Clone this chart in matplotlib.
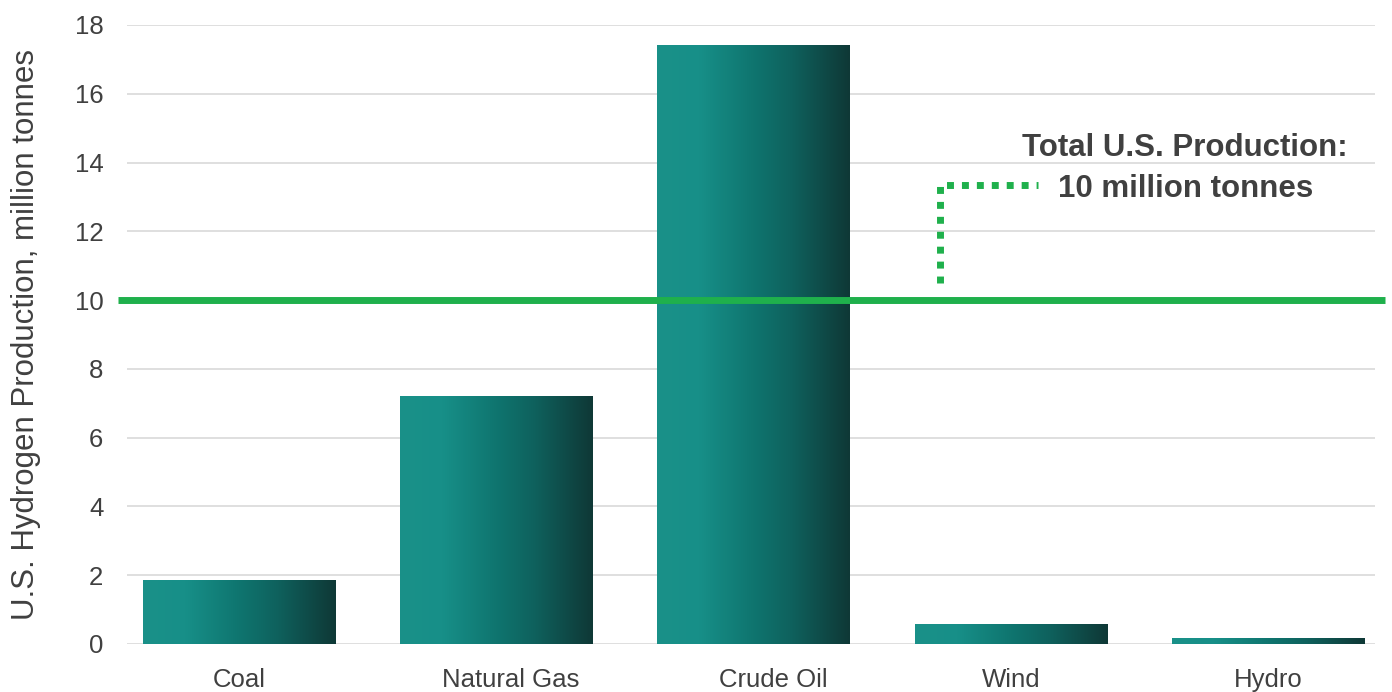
import matplotlib

matplotlib.use("Agg")
import matplotlib.pyplot as plt
import numpy as np
from matplotlib.colors import LinearSegmentedColormap
from matplotlib.transforms import ScaledTranslation

plt.rcParams["font.family"] = ["Liberation Sans", "DejaVu Sans"]

# U.S. hydrogen production by source, million tonnes
sources = ["Coal", "Natural Gas", "Crude Oil", "Wind", "Hydro"]
production = [1.86, 7.21, 17.41, 0.58, 0.17]
total_production = 10
y_ticks = [0, 2, 4, 6, 8, 10, 12, 14, 16, 18]

TEXT = "#404040"
GRID = "#d9d9d9"
GREEN = "#1fb04c"

bar_cmap = LinearSegmentedColormap.from_list(
    "teal_fade",
    [(0.0, "#1a9189"), (0.22, "#178f88"), (0.5, "#0f756f"),
     (0.7, "#0e615d"), (1.0, "#0f3836")])

fig = plt.figure(figsize=(13.92, 6.92), dpi=100)
ax = fig.add_axes([0.0912, 0.0694, 0.8966, 0.8945])

x = np.arange(len(sources))
bars = ax.bar(x, production, width=0.75, color="none", zorder=2)

# horizontal gradient fill, clipped to each bar
grad = np.linspace(0, 1, 256).reshape(1, -1)
for rect in bars:
    x0, w, h = rect.get_x(), rect.get_width(), rect.get_height()
    im = ax.imshow(grad, cmap=bar_cmap, aspect="auto",
                   extent=(x0, x0 + w, 0, h), zorder=2, interpolation="bilinear")
    im.set_clip_path(rect)

ax.set_xlim(-0.437, 4.414)
ax.set_ylim(0, 18)
ax.set_yticks(y_ticks)
ax.set_xticks(x)
ax.set_xticklabels(sources)
ax.yaxis.grid(True, color=GRID, lw=1.2, zorder=0)
ax.set_axisbelow(True)
for s in ax.spines.values():
    s.set_visible(False)
ax.tick_params(axis="both", length=0, labelsize=18.5, colors=TEXT)
ax.tick_params(axis="y", pad=17)
ax.tick_params(axis="x", pad=17.5)
ax.set_ylabel("U.S. Hydrogen Production, million tonnes",
              fontsize=22.5, color=TEXT, labelpad=24)

# the two middle category labels sit a little right of centre
label_nudge = {"Natural Gas": 0.14, "Crude Oil": 0.19}
for lbl in ax.get_xticklabels():
    dx = label_nudge.get(lbl.get_text(), 0)
    if dx:
        lbl.set_transform(lbl.get_transform()
                          + ScaledTranslation(dx, 0, fig.dpi_scale_trans))

# total production reference line, running slightly past the plot area
ax.plot([-0.007, 1.008], [total_production, total_production], color=GREEN,
        lw=5, transform=ax.get_yaxis_transform(), clip_on=False, zorder=3,
        solid_capstyle="butt")

# dotted elbow connecting the label to the line
ax.plot([2.723, 2.723, 3.104], [10.5, 13.34, 13.34], color=GREEN, lw=5,
        linestyle=(0, (1.0, 1.15)), zorder=3, solid_joinstyle="miter")
ax.text(3.676, 13.82, f"Total U.S. Production:\n{total_production} million tonnes",
        ha="center", va="center", fontsize=22.5, fontweight="bold",
        color=TEXT, linespacing=1.47, zorder=4)

fig.savefig("out.png", dpi=100, facecolor="white")
